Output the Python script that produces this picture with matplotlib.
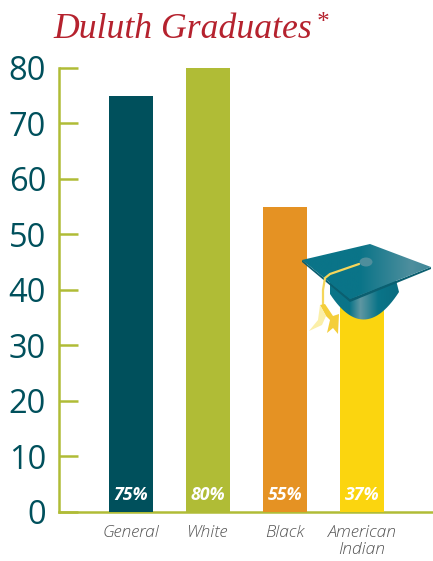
import numpy as np
import matplotlib
matplotlib.use('Agg')
import matplotlib.pyplot as plt
from matplotlib.colors import LinearSegmentedColormap
from matplotlib.patches import Polygon, Ellipse

W, H = 433, 561
categories = ['General', 'White', 'Black', 'American\nIndian']
values = [75, 80, 55, 37]
labels = ['75%', '80%', '55%', '37%']
colors = ['#00505C', '#B0BC36', '#E59223', '#FBD50F']
yticks = [0, 10, 20, 30, 40, 50, 60, 70, 80]

TEAL = '#00505C'
OLIVE = '#B0BC36'

plt.rcParams['font.family'] = ['Open Sans', 'DejaVu Sans']
fig = plt.figure(figsize=(W / 100, H / 100), dpi=100)

# axes placed in pixels, spine at x=58.5, 0 at y=511.5, 80 at y=68
left, right, top, bottom = 58.5, 433, 68, 511.5
ax = fig.add_axes([left / W, 1 - bottom / H, (right - left) / W, (bottom - top) / H])
x = np.arange(len(categories))
ax.bar(x, values, width=44 / 77, color=colors, zorder=3)
ax.set_xlim((left - 131) / 77, (right - 131) / 77)
ax.set_ylim(0, 80)

for s in ['top', 'right']:
    ax.spines[s].set_visible(False)
for s in ['left', 'bottom']:
    ax.spines[s].set_color(OLIVE)
    ax.spines[s].set_linewidth(1.8)

ax.set_yticks(yticks)
ax.tick_params(axis='y', direction='in', length=14, width=1.8, color=OLIVE,
               labelcolor=TEAL, labelsize=23.5, pad=9)
ax.set_xticks(x)
ax.set_xticklabels(categories, fontsize=12.5, style='italic', color='#555555',
                   fontweight='light', linespacing=1.05)
ax.tick_params(axis='x', length=0, pad=10)

for i, lab in enumerate(labels):
    ax.text(i, 3.0, lab, color='white', fontsize=12.8, fontweight='bold', style='italic',
            ha='center', va='center', zorder=4)

fig.text(53 / W, 1 - 38 / H, 'Duluth Graduates', color='#B5222E', fontsize=25.7,
         family=['Liberation Serif'], style='italic', va='baseline', ha='left')
fig.text(316 / W, 1 - 29 / H, '*', color='#B5222E', fontsize=18,
         family=['Liberation Serif'], style='italic', va='baseline', ha='left')

# graduation cap, drawn in pixel coordinates on top of the chart
hat = fig.add_axes([0, 0, 1, 1], zorder=5)
hat.patch.set_alpha(0)
hat.axis('off')


def gradient_fill(verts, cols, stops, extent, z):
    grad = np.linspace(0, 1, 256).reshape(1, -1)
    cmap = LinearSegmentedColormap.from_list('g', list(zip(stops, cols)))
    im = hat.imshow(grad, cmap=cmap, extent=extent, aspect='auto', zorder=z)
    patch = Polygon(verts, closed=True, transform=hat.transData, fc='none', ec='none')
    hat.add_patch(patch)
    im.set_clip_path(patch)


# cap body under the board
t = np.linspace(0, 1, 30)
p0, p1, p2 = np.array([330, 294]), np.array([364, 346]), np.array([399, 292])
curve = np.outer((1 - t) ** 2, p0) + np.outer(2 * t * (1 - t), p1) + np.outer(t ** 2, p2)
body = [(330, 280), (396, 280)] + [tuple(c) for c in curve[::-1]]
gradient_fill(body, ['#0A7488', '#0A7488', '#5F97A2', '#0A7488', '#0A6C80'],
              [0, 0.3, 0.45, 0.7, 1], (328, 400, 325, 275), 2)

# board thickness then board
hat.add_patch(Polygon([(302, 260), (350, 299), (431, 267), (431, 269), (350, 302), (302, 262)],
                      fc='#0B5F70', ec='none', zorder=3))
gradient_fill([(302, 260), (370, 244), (431, 267), (350, 299)],
              ['#0A7488', '#0A7488', '#4F8F9E', '#3F8798'],
              [0, 0.45, 0.85, 1], (302, 431, 300, 244), 4)
hat.add_patch(Ellipse((366, 262), 13, 9, fc='#4F8E9C', ec='none', zorder=5))

# cord and tassel
hat.plot([359, 330, 325, 323, 323], [264, 274, 278, 290, 305], color='#F5D65B', lw=1.6,
         solid_capstyle='round', zorder=6)
hat.add_patch(Polygon([(320, 305), (325, 304), (333, 316), (339, 314), (338, 334), (333, 328),
                       (327, 333), (330, 320), (326, 316)], fc='#F4CE3A', ec='none', zorder=6))
hat.add_patch(Polygon([(320, 305), (326, 316), (322, 325), (309, 331), (318, 320)],
                      fc='#FBEFA8', ec='none', zorder=6))

hat.set_xlim(0, W)
hat.set_ylim(H, 0)

fig.savefig('out.png', dpi=100)
